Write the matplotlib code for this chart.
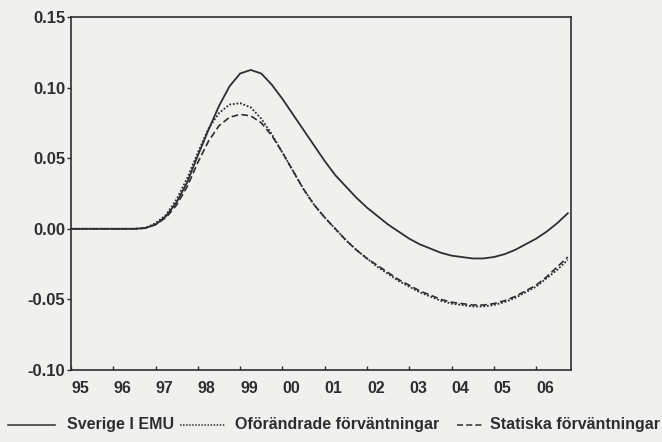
import matplotlib.pyplot as plt
from matplotlib.lines import Line2D
import numpy as np

# quarterly series, 1995Q1 - 2006Q4
sverige_emu = [0.0, 0.0, 0.0, 0.0, 0.0, 0.0, 0.0, 0.0005,
               0.003, 0.009, 0.019, 0.033, 0.052, 0.070, 0.087, 0.101,
               0.110, 0.1125, 0.110, 0.102, 0.092, 0.081, 0.070, 0.059,
               0.048, 0.038, 0.030, 0.022, 0.015, 0.009, 0.003, -0.002,
               -0.007, -0.011, -0.014, -0.017, -0.019, -0.020, -0.021, -0.021,
               -0.020, -0.018, -0.015, -0.011, -0.007, -0.002, 0.004, 0.011]
oforandrade = [0.0, 0.0, 0.0, 0.0, 0.0, 0.0, 0.0, 0.0005,
               0.004, 0.010, 0.021, 0.036, 0.054, 0.071, 0.082, 0.088,
               0.089, 0.086, 0.078, 0.067, 0.054, 0.041, 0.028, 0.017,
               0.008, 0.000, -0.008, -0.015, -0.021, -0.027, -0.032, -0.037,
               -0.041, -0.045, -0.048, -0.051, -0.053, -0.054, -0.055, -0.055,
               -0.054, -0.052, -0.049, -0.045, -0.041, -0.035, -0.029, -0.022]
statiska = [0.0, 0.0, 0.0, 0.0, 0.0, 0.0, 0.0, 0.0005,
            0.003, 0.008, 0.017, 0.030, 0.047, 0.062, 0.073, 0.079,
            0.081, 0.080, 0.075, 0.066, 0.054, 0.041, 0.028, 0.017,
            0.008, 0.000, -0.008, -0.015, -0.021, -0.026, -0.031, -0.036,
            -0.040, -0.044, -0.047, -0.050, -0.052, -0.053, -0.054, -0.054,
            -0.053, -0.051, -0.048, -0.044, -0.040, -0.034, -0.027, -0.020]
year_labels = ['95', '96', '97', '98', '99', '00', '01', '02', '03', '04', '05', '06']
series_names = ['Sverige I EMU', 'Oförändrade förväntningar', 'Statiska förväntningar']

bg = '#f0f0ee'
ink = '#2e2e2e'
plt.rcParams['font.family'] = ['Liberation Sans', 'DejaVu Sans']

q = np.arange(len(sverige_emu))

fig = plt.figure(figsize=(6.62, 4.42), dpi=100, facecolor=bg)
ax = fig.add_axes([0.1073, 0.1629, 0.7552, 0.7986], facecolor=bg)

ax.plot(q, sverige_emu, color=ink, lw=1.3, ls='-')
ax.plot(q, oforandrade, color=ink, lw=1.3, ls=(0, (1, 1)))
ax.plot(q, statiska, color=ink, lw=1.2, ls=(0, (4, 2)))

ax.set_xlim(0, 47.3)
ax.set_ylim(-0.10, 0.15)
ax.set_yticks([-0.10, -0.05, 0.00, 0.05, 0.10, 0.15])
ax.set_yticklabels(['-0.10', '-0.05', '0.00', '0.05', '0.10', '0.15'],
                   fontsize=12, fontweight='bold', color=ink)
ax.set_xticks(np.arange(0, 48, 4))
ax.set_xticklabels(year_labels, fontsize=11.5, fontweight='bold', color=ink,
                   ha='left')
ax.tick_params(axis='y', direction='out', length=3, width=1, pad=1, color=ink)
ax.tick_params(axis='x', direction='in', length=3, width=1, pad=8, color=ink)
for s in ax.spines.values():
    s.set_color(ink)
    s.set_linewidth(1.2)

# legend row under the chart
ly = 1 - 425 / 442
items = [(8, 55, '-', 67), (180, 225, (0, (1, 1)), 235), (457, 483, (0, (4, 2)), 490)]
for (x0, x1, style, tx), name in zip(items, series_names):
    fig.add_artist(Line2D([x0 / 662, x1 / 662], [ly, ly], color=ink, lw=1.1, ls=style))
    fig.text(tx / 662, ly, name, fontsize=11.5, fontweight='bold', color=ink,
             va='center', ha='left')

fig.savefig('out.png', dpi=100, facecolor=bg)
